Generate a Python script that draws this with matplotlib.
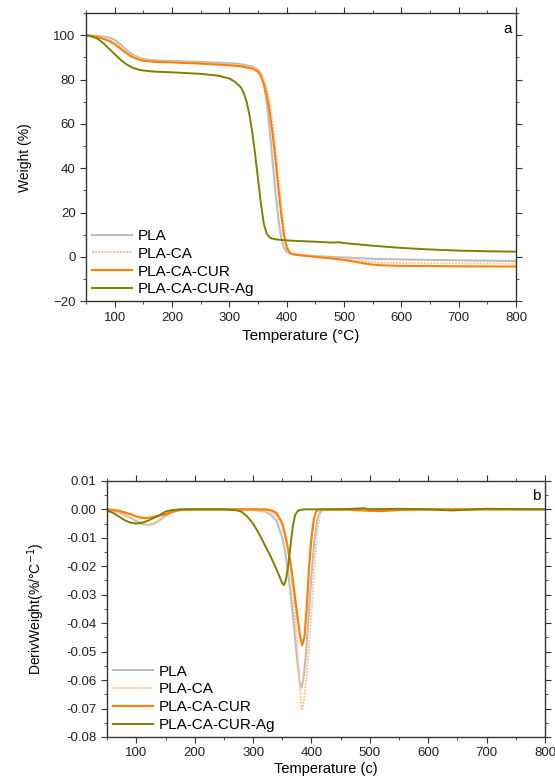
import matplotlib
matplotlib.use("Agg")
import matplotlib.pyplot as plt
from matplotlib.ticker import MultipleLocator, FormatStrFormatter

plt.rcParams["font.family"] = ["Liberation Sans", "DejaVu Sans"]

GREY = "#BDBDBD"; PEACH = "#FFC48C"; ORANGE = "#FF7F0A"; OLIVE = "#7F8000"
INK = "#222222"

# ---- (a) TGA weight curves ----
pla_T = [50, 70, 90, 100, 110, 120, 130, 140, 150, 160, 180, 200, 250, 300, 320, 340, 350, 355,
         360, 365, 370, 375, 380, 385, 390, 395, 400, 405, 410, 420, 450, 500, 550, 600, 700, 800]
pla_W = [100, 99.8, 99, 98, 96, 93.5, 91.5, 90.2, 89.3, 88.9, 88.6, 88.4, 88, 87.5, 87, 86, 84.5, 82.5,
         78, 70, 58, 44, 30, 18, 9, 4, 2.2, 1.6, 1.2, 0.8, 0.3, -0.3, -0.9, -1.2, -1.6, -1.9]

cur_T = [50, 70, 90, 100, 110, 120, 130, 140, 150, 170, 200, 250, 300, 320, 340, 350, 355, 360, 365,
         370, 375, 380, 385, 390, 395, 400, 405, 410, 420, 450, 500, 520, 540, 560, 600, 700, 800]
cur_W = [100, 99.3, 97.5, 96, 94, 92, 90.3, 89.2, 88.5, 88, 87.8, 87.2, 86.5, 86, 85, 83.5, 81.5, 78, 73,
         66, 56, 45, 32, 20, 10, 4, 2, 1.2, 0.8, 0.0, -1.4, -2.3, -3.2, -3.8, -4.1, -4.3, -4.4]

ca_T = cur_T
ca_W = [100, 99.5, 98, 96.8, 94.8, 92.6, 90.8, 89.6, 88.8, 88.2, 88, 87.5, 86.8, 86.4, 85.6, 84.5, 83, 80, 76,
        70, 61, 50, 37, 24, 13, 5, 2.5, 1.4, 0.9, 0.2, -1.0, -1.6, -2.2, -2.6, -2.9, -3.0, -3.1]

ag_T = [50, 60, 70, 80, 90, 100, 110, 120, 130, 140, 150, 170, 200, 250, 280, 300, 310, 320, 325, 330, 335,
        340, 345, 350, 355, 360, 365, 370, 375, 380, 390, 400, 450, 480, 490, 500, 550, 600, 650, 700, 750, 800]
ag_W = [100, 99.5, 98.5, 96.5, 94, 91.5, 89, 87, 85.5, 84.6, 84.1, 83.6, 83.3, 82.6, 81.8, 80.5, 79, 76.5, 74, 70, 64,
        56, 46, 35, 24, 15, 10.5, 8.8, 8.2, 7.9, 7.6, 7.4, 6.8, 6.4, 6.6, 6.2, 5, 4, 3.3, 2.8, 2.5, 2.3]

# ---- (b) DTG curves ----
dpla_T = [50, 70, 90, 100, 110, 120, 130, 140, 150, 160, 175, 200, 250, 300, 320, 330, 340, 350, 355, 360,
          365, 370, 375, 380, 383, 386, 390, 395, 400, 405, 410, 415, 420, 450, 500, 550, 600, 700, 800]
dpla_D = [0, -0.001, -0.003, -0.0042, -0.0052, -0.0055, -0.005, -0.0038, -0.0022, -0.001, -0.0002, 0, 0, -0.0002,
          -0.0008, -0.0018, -0.004, -0.010, -0.015, -0.022, -0.031, -0.041, -0.052, -0.061, -0.0627, -0.060,
          -0.052, -0.038, -0.023, -0.011, -0.0035, -0.0008, -0.0002, 0, 0, 0, 0, 0, 0]

dca_T = [50, 70, 90, 100, 110, 120, 130, 140, 150, 160, 175, 200, 250, 300, 320, 340, 350, 360, 365, 370, 375,
         380, 383, 386, 390, 395, 400, 405, 410, 415, 420, 450, 500, 520, 550, 600, 700, 800]
dca_D = [0, -0.0008, -0.0028, -0.004, -0.005, -0.0055, -0.0052, -0.004, -0.0025, -0.0012, -0.0003, 0, 0, -0.0002,
         -0.0006, -0.002, -0.005, -0.014, -0.022, -0.033, -0.047, -0.062, -0.0707, -0.069, -0.062, -0.050,
         -0.036, -0.020, -0.007, -0.0015, -0.0003, 0, -0.0005, -0.0007, -0.0002, 0, 0, 0]

dcur_T = [50, 70, 90, 100, 110, 115, 120, 130, 140, 150, 160, 170, 180, 200, 250, 300, 320, 330, 340, 345, 350,
          355, 360, 365, 370, 375, 380, 384, 388, 392, 396, 400, 404, 408, 412, 420, 450, 500, 520, 550, 600,
          700, 800]
dcur_D = [0, -0.0005, -0.0017, -0.0025, -0.003, -0.0031, -0.003, -0.0026, -0.0022, -0.0017, -0.001, -0.0004,
          -0.0001, 0, 0, 0, 0, -0.0003, -0.0012, -0.003, -0.005, -0.009, -0.014, -0.020, -0.028, -0.036, -0.044,
          -0.0477, -0.045, -0.034, -0.020, -0.010, -0.0035, -0.0008, -0.0001, 0, 0, -0.0005, -0.0006, -0.0002,
          0, 0, 0]

dag_T = [50, 60, 70, 80, 90, 100, 110, 120, 130, 140, 150, 160, 175, 200, 250, 270, 280, 290, 300, 310, 320,
         330, 340, 345, 350, 353, 356, 360, 364, 368, 372, 376, 380, 390, 450, 480, 490, 500, 550, 600, 640,
         700, 800]
dag_D = [-0.0005, -0.0012, -0.0025, -0.0038, -0.0047, -0.005, -0.0047, -0.004, -0.003, -0.002, -0.0008,
         -0.0003, 0, 0, 0, -0.0003, -0.0008, -0.0025, -0.005, -0.0085, -0.0125, -0.0165, -0.021, -0.0235,
         -0.026, -0.0266, -0.025, -0.020, -0.013, -0.006, -0.002, -0.0007, -0.0002, 0, 0, 0.0003, 0.0004, 0,
         0.0002, 0, -0.0004, 0.0002, 0]

LABELS = ["PLA", "PLA-CA", "PLA-CA-CUR", "PLA-CA-CUR-Ag"]


def frame(ax):
    for s in ax.spines.values():
        s.set_color("#333333"); s.set_linewidth(1.0)
    ax.tick_params(which="both", direction="out", top=True, right=True, labeltop=False,
                   labelright=False, colors="#333333", labelcolor=INK, labelsize=9.5)
    ax.tick_params(which="major", length=4)
    ax.tick_params(which="minor", length=2.5)
    ax.xaxis.set_major_locator(MultipleLocator(100))
    ax.xaxis.set_minor_locator(MultipleLocator(50))


def legend(ax):
    ax.legend(loc="lower left", frameon=False, fontsize=11, handlelength=2.6, handletextpad=0.4,
              labelspacing=0.25, borderaxespad=0.0, bbox_to_anchor=(0.0, -0.005))


fig = plt.figure(figsize=(5.55, 7.76), dpi=100)

ax1 = fig.add_axes([0.155, 0.612, 0.775, 0.371])
ax1.plot(pla_T, pla_W, color=GREY, lw=1.5, label=LABELS[0])
ax1.plot(ca_T, ca_W, color=PEACH, lw=1.4, ls=(0, (1, 0.6)), label=LABELS[1])
ax1.plot(cur_T, cur_W, color=ORANGE, lw=1.5, label=LABELS[2])
ax1.plot(ag_T, ag_W, color=OLIVE, lw=1.4, label=LABELS[3])
ax1.set_xlim(50, 800); ax1.set_ylim(-20, 110)
ax1.yaxis.set_major_locator(MultipleLocator(20))
ax1.yaxis.set_minor_locator(MultipleLocator(10))
frame(ax1)
ax1.set_xlabel("Temperature (\u00b0C)", fontsize=11, labelpad=4)
ax1.set_ylabel("Weight (%)", fontsize=10, labelpad=15)
ax1.text(0.99, 0.97, "a", transform=ax1.transAxes, ha="right", va="top", fontsize=11)
legend(ax1)

ax2 = fig.add_axes([0.193, 0.0503, 0.789, 0.330])
ax2.plot(dpla_T, dpla_D, color=GREY, lw=1.5, label=LABELS[0])
ax2.plot(dca_T, dca_D, color=PEACH, lw=1.4, ls=(0, (1, 0.6)), label=LABELS[1])
ax2.plot(dcur_T, dcur_D, color=ORANGE, lw=1.6, label=LABELS[2])
ax2.plot(dag_T, dag_D, color=OLIVE, lw=1.4, label=LABELS[3])
ax2.set_xlim(50, 800); ax2.set_ylim(-0.08, 0.01)
ax2.yaxis.set_major_locator(MultipleLocator(0.01))
ax2.yaxis.set_minor_locator(MultipleLocator(0.005))
ax2.yaxis.set_major_formatter(FormatStrFormatter("%.2f"))
frame(ax2)
ax2.set_xlabel("Temperature (c)", fontsize=10.5, labelpad=2)
ax2.set_ylabel("DerivWeight(%/\u00b0C$^{-1}$)", fontsize=10, labelpad=14)
ax2.text(0.99, 0.97, "b", transform=ax2.transAxes, ha="right", va="top", fontsize=11)
legend(ax2)

fig.savefig("out.png", dpi=100, facecolor="white")
